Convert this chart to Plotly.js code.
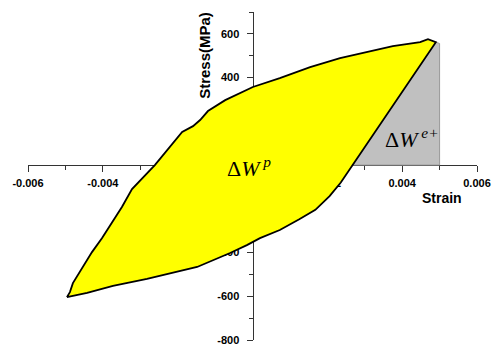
<!DOCTYPE html>
<html>
<head>
<meta charset="utf-8">
<script src="https://cdn.plot.ly/plotly-3.0.1.min.js"></script>
<style>
  html, body { margin: 0; padding: 0; background: #fff; }
  #chart { width: 494px; height: 347px; }
</style>
</head>
<body>
<div id="chart"></div>
<script>
// Stabilised hysteresis loop: loading branch (bottom-left tip to top-right tip),
// then unloading branch back to the start.
const loopStrain = [
  -0.00496, -0.00488, -0.00480, -0.00429, -0.00402, -0.00349, -0.00322, -0.00261,
  -0.00188, -0.00159, -0.00140, -0.00119, -0.00073, 0.00001, 0.00073, 0.00154,
  0.00234, 0.00375, 0.00448, 0.00469, 0.00490,
  0.00266, 0.00236, 0.00206, 0.00168, 0.00125, 0.00073, 0.00020, -0.00015,
  -0.00060, -0.00148, -0.00282, -0.00373, -0.00442, -0.00496
];
const loopStress = [
  -604, -581, -540, -398, -334, -192, -110, 0,
  151, 178, 206, 247, 297, 357, 398, 448,
  489, 544, 562, 576, 562,
  0, -80, -142, -205, -248, -297, -334, -366,
  -402, -466, -521, -553, -585, -604
];

// Positive elastic strain energy region under the unloading line
const elasticStrain = [0.00266, 0.00500, 0.00500, 0.00490, 0.00266];
const elasticStress = [0, 0, 556, 562, 0];

// Axis ticks
const strainTicks = [-0.006, -0.004, -0.002, 0, 0.002, 0.004, 0.006];
const strainTickText = ['-0.006', '-0.004', '-0.002', '0.000', '0.002', '0.004', '0.006'];
const stressTicks = [-800, -600, -400, -200, 0, 200, 400, 600];
const stressTickText = ['-800', '-600', '-400', '-200', '0', '200', '400', '600'];

const xRange = [-0.006, 0.006];
const yRange = [-800, 700];

const tickFont = { family: 'Arial, Liberation Sans, sans-serif', size: 11, color: '#000', weight: 'bold' };
const axisColor = '#333';

const traces = [
  {
    x: elasticStrain, y: elasticStress,
    type: 'scatter', mode: 'lines', fill: 'toself',
    fillcolor: '#c0c0c0',
    line: { color: '#9a9a9a', width: 1 },
    hoverinfo: 'skip', showlegend: false
  },
  {
    x: loopStrain, y: loopStress,
    type: 'scatter', mode: 'lines', fill: 'toself',
    fillcolor: '#ffff00',
    line: { color: '#000', width: 1.8 },
    hoverinfo: 'skip', showlegend: false
  }
];

const layout = {
  width: 494, height: 347,
  margin: { l: 28, r: 17, t: 12, b: 7, pad: 0 },
  paper_bgcolor: '#fff', plot_bgcolor: '#fff',
  showlegend: false,
  xaxis: {
    range: xRange, anchor: 'free', position: (0 - yRange[0]) / (yRange[1] - yRange[0]),
    showgrid: false, zeroline: false,
    showline: true, linecolor: axisColor, linewidth: 1,
    ticks: 'outside', ticklen: 6, tickcolor: axisColor, tickwidth: 1,
    tickmode: 'array', tickvals: strainTicks, ticktext: strainTickText,
    tickfont: tickFont, ticklabelstandoff: 2,
    minor: { tickmode: 'linear', tick0: 0, dtick: 0.001, ticks: 'outside', ticklen: 4, tickcolor: axisColor },
    layer: 'below traces', fixedrange: true
  },
  yaxis: {
    range: yRange, anchor: 'free', position: 0.5,
    showgrid: false, zeroline: false,
    showline: true, linecolor: axisColor, linewidth: 1,
    ticks: 'outside', ticklen: 6, tickcolor: axisColor, tickwidth: 1,
    tickmode: 'array', tickvals: stressTicks, ticktext: stressTickText,
    tickfont: tickFont, ticklabelstandoff: 5,
    minor: { tickmode: 'linear', tick0: 0, dtick: 100, ticks: 'outside', ticklen: 4, tickcolor: axisColor },
    layer: 'below traces', fixedrange: true
  },
  annotations: [
    {
      text: 'Stress(MPa)', xref: 'paper', yref: 'paper',
      x: 0.394, y: 0.869, xanchor: 'center', yanchor: 'middle',
      textangle: -90, showarrow: false,
      font: { family: 'Arial, Liberation Sans, sans-serif', size: 15, color: '#000', weight: 'bold' }
    },
    {
      text: 'Strain', xref: 'paper', yref: 'paper',
      x: 0.922, y: 0.433, xanchor: 'center', yanchor: 'middle',
      showarrow: false,
      font: { family: 'Arial, Liberation Sans, sans-serif', size: 14, color: '#000', weight: 'bold' }
    },
    {
      text: 'Δ<i>W</i><sup><i> p</i></sup>', xref: 'x', yref: 'y',
      x: -0.0001, y: -10, xanchor: 'center', yanchor: 'middle', showarrow: false,
      font: { family: 'Times New Roman, Liberation Serif, serif', size: 22, color: '#000' }
    },
    {
      text: 'Δ<i>W</i><sup><i> e+</i></sup>', xref: 'x', yref: 'y',
      x: 0.00425, y: 125, xanchor: 'center', yanchor: 'middle', showarrow: false,
      font: { family: 'Times New Roman, Liberation Serif, serif', size: 22, color: '#000' }
    }
  ]
};

Plotly.newPlot('chart', traces, layout, { displayModeBar: false, staticPlot: true });
</script>
</body>
</html>
